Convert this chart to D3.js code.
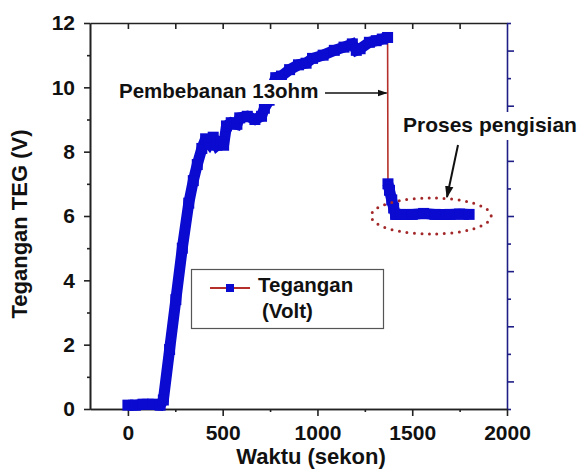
<!DOCTYPE html>
<html>
<head>
<meta charset="utf-8">
<script src="https://cdn.jsdelivr.net/npm/d3@7/dist/d3.min.js"></script>
<style>
  html, body { margin: 0; padding: 0; background: #fff; }
  svg { display: block; font-family: "Liberation Sans", Arial, sans-serif; font-weight: bold; }
  .tick text { fill: #111; font-size: 21px; font-weight: bold; }
</style>
</head>
<body>
<svg id="chart" width="577" height="471"></svg>
<script>
// TEG voltage while heating (charge) and after the 13 ohm load is attached.
const chargeTime = [0, 40, 80, 130, 170, 187, 220, 253, 287, 321, 345, 366, 390, 410, 430, 450, 470, 490, 505,
  520, 545, 575, 590, 630, 670, 705, 720, 745, 760, 780, 810, 853, 900, 940, 974, 1030, 1089, 1140, 1184,
  1205, 1225, 1274, 1310, 1342, 1370];
const chargeVolt = [0.12, 0.12, 0.15, 0.15, 0.12, 0.28, 1.85, 3.4, 5.0, 6.4, 7.1, 7.6, 8.1, 8.4, 8.25, 8.45, 8.2, 8.3, 8.2,
  8.8, 8.9, 8.85, 9.05, 9.1, 9.0, 9.1, 9.35, 9.6, 10.0, 10.3, 10.35, 10.55, 10.7, 10.75, 10.9, 11.0, 11.15, 11.25, 11.35,
  11.15, 11.2, 11.4, 11.45, 11.5, 11.55];
const loadTime = [1372, 1380, 1392, 1402, 1412, 1440, 1500, 1560, 1620, 1700, 1750, 1800];
const loadVolt = [7.0, 6.8, 6.5, 6.25, 6.05, 6.05, 6.05, 6.08, 6.05, 6.05, 6.06, 6.05];

const xMajor = [0, 500, 1000, 1500, 2000];
const xMinor = [250, 750, 1250, 1750];
const xTop = [0, 250, 500, 750, 1000, 1250, 1500, 1750];
const yMajor = [0, 2, 4, 6, 8, 10, 12];
const yMinor = [1, 3, 5, 7, 9, 11];
const rightTicks = d3.range(0, 15);

const xLabel = "Waktu (sekon)";
const yLabel = "Tegangan TEG (V)";
const legendLines = ["Tegangan", "(Volt)"];
const loadNote = "Pembebanan 13ohm";
const chargeNote = "Proses pengisian";

const BLUE = "#0a0ad0";
const RED = "#b5302a";
const NAVY = "#1e1e86";
const INK = "#222";
const BAND = 11;

const svg = d3.select("#chart");
const x = d3.scaleLinear().domain([-200, 2000]).range([90, 507]);
const y = d3.scaleLinear().domain([0, 12]).range([409, 23]);
const yR = d3.scaleLinear().domain([0, 14]).range([409, 23]);

const charge = chargeTime.map((t, i) => ({ t, v: chargeVolt[i] }));
const load = loadTime.map((t, i) => ({ t, v: loadVolt[i] }));

// ---------------- axes ----------------

function styleAxis(g, color) {
  g.selectAll(".domain").attr("stroke", color).attr("stroke-width", 1.6);
  g.selectAll(".tick line").attr("stroke", color).attr("stroke-width", 1.6);
}

// top frame line with inward ticks
svg.append("g")
  .attr("transform", "translate(0,23)")
  .call(d3.axisTop(x).tickValues(xTop).tickSizeInner(-6).tickSizeOuter(0).tickFormat(""))
  .call((g) => styleAxis(g, INK));

// right axis (navy, unlabeled)
svg.append("g")
  .attr("transform", "translate(507,0)")
  .call(d3.axisRight(yR).tickValues(rightTicks).tickSizeOuter(0).tickFormat(""))
  .call((g) => {
    styleAxis(g, NAVY);
    g.selectAll(".tick line").attr("x2", (d) => (d % 2 ? 7 : 4));
  });

svg.append("g")
  .attr("transform", "translate(0,409)")
  .call(d3.axisBottom(x).tickValues(xMinor).tickSize(3).tickSizeOuter(0).tickFormat(""))
  .call((g) => styleAxis(g, INK));

svg.append("g")
  .attr("transform", "translate(0,409)")
  .call(d3.axisBottom(x).tickValues(xMajor).tickSize(7).tickSizeOuter(0).tickPadding(9).tickFormat(d3.format("d")))
  .call((g) => styleAxis(g, INK));

svg.append("g")
  .attr("transform", "translate(90,0)")
  .call(d3.axisLeft(y).tickValues(yMinor).tickSize(3).tickSizeOuter(0).tickFormat(""))
  .call((g) => styleAxis(g, INK));

svg.append("g")
  .attr("transform", "translate(90,0)")
  .call(d3.axisLeft(y).tickValues(yMajor).tickSize(6).tickSizeOuter(0).tickPadding(9).tickFormat(d3.format("d")))
  .call((g) => styleAxis(g, INK));

svg.append("text")
  .attr("x", 311).attr("y", 464)
  .attr("text-anchor", "middle")
  .attr("font-size", 22).attr("fill", "#111")
  .text(xLabel);

svg.append("text")
  .attr("transform", "translate(27,224) rotate(-90)")
  .attr("text-anchor", "middle")
  .attr("font-size", 22).attr("fill", "#111")
  .text(yLabel);

// ---------------- series ----------------

const line = d3.line().x((d) => x(d.t)).y((d) => y(d.v));

// thin red connector under everything — only shows on the load drop
svg.append("path")
  .attr("d", line(charge.concat(load)))
  .attr("fill", "none").attr("stroke", RED).attr("stroke-width", 1.6);

[charge, load].forEach((seg) => {
  svg.append("path")
    .attr("d", line(seg))
    .attr("fill", "none")
    .attr("stroke", BLUE)
    .attr("stroke-width", BAND)
    .attr("stroke-linejoin", "miter")
    .attr("stroke-miterlimit", 2);
  svg.append("g").selectAll("rect")
    .data(seg)
    .join("rect")
    .attr("x", (d) => x(d.t) - BAND / 2)
    .attr("y", (d) => y(d.v) - BAND / 2)
    .attr("width", BAND).attr("height", BAND)
    .attr("fill", BLUE);
});

// ---------------- annotations ----------------

svg.append("defs").append("marker")
  .attr("id", "arrow")
  .attr("viewBox", "0 0 10 10")
  .attr("refX", 9).attr("refY", 5)
  .attr("markerWidth", 6).attr("markerHeight", 6)
  .attr("orient", "auto")
  .append("path").attr("d", "M0,1.5 L10,5 L0,8.5 Z").attr("fill", "#111");

// dotted ring round the charging plateau
svg.append("ellipse")
  .attr("cx", x(1600)).attr("cy", y(6.0))
  .attr("rx", 60).attr("ry", 18)
  .attr("fill", "none")
  .attr("stroke", "#a3282a")
  .attr("stroke-width", 3)
  .attr("stroke-linecap", "round")
  .attr("stroke-dasharray", "0 7.5");

// load label
svg.append("rect")
  .attr("x", 116).attr("y", 80).attr("width", 210).attr("height", 24)
  .attr("fill", "#fff");
svg.append("text")
  .attr("x", 119).attr("y", 98)
  .attr("font-size", 20.5).attr("fill", "#111")
  .text(loadNote);
svg.append("line")
  .attr("x1", 325).attr("y1", 93).attr("x2", x(1365)).attr("y2", 93)
  .attr("stroke", "#111").attr("stroke-width", 1.6)
  .attr("marker-end", "url(#arrow)");

// charging label
svg.append("rect")
  .attr("x", 401).attr("y", 112).attr("width", 176).attr("height", 28)
  .attr("fill", "#fff");
svg.append("text")
  .attr("x", 403).attr("y", 132)
  .attr("font-size", 21).attr("fill", "#111")
  .text(chargeNote);
svg.append("line")
  .attr("x1", 458).attr("y1", 145).attr("x2", 447).attr("y2", 197)
  .attr("stroke", "#111").attr("stroke-width", 2)
  .attr("marker-end", "url(#arrow)");

// ---------------- legend ----------------

const legend = svg.append("g");
legend.append("rect")
  .attr("x", 191.5).attr("y", 269.5).attr("width", 192).attr("height", 59)
  .attr("fill", "#fff").attr("stroke", "#555").attr("stroke-width", 1.2);
legend.append("line")
  .attr("x1", 210).attr("x2", 250).attr("y1", 288).attr("y2", 288)
  .attr("stroke", RED).attr("stroke-width", 1.8);
legend.append("rect")
  .attr("x", 226).attr("y", 284).attr("width", 8).attr("height", 8)
  .attr("fill", BLUE);
legend.selectAll("text")
  .data(legendLines)
  .join("text")
  .attr("x", (d, i) => (i ? 262 : 258))
  .attr("y", (d, i) => 292 + i * 26)
  .attr("font-size", 20.5).attr("fill", "#111")
  .text((d) => d);
</script>
</body>
</html>
